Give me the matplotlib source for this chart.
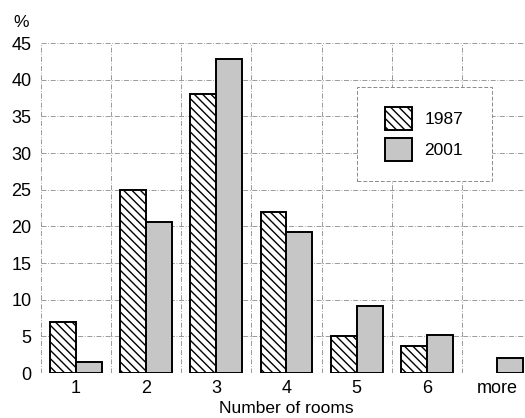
import matplotlib
matplotlib.use("Agg")
import matplotlib.pyplot as plt
from matplotlib.patches import Rectangle
import numpy as np

plt.rcParams['font.family'] = ['Liberation Sans', 'DejaVu Sans']
plt.rcParams['hatch.linewidth'] = 1.0

categories = ['1', '2', '3', '4', '5', '6', 'more']
vals_1987 = [7.0, 25.0, 38.0, 22.0, 5.0, 3.7, 0.0]
vals_2001 = [1.5, 20.6, 42.8, 19.2, 9.1, 5.2, 2.1]
series_labels = ['1987', '2001']
yticks = [0, 5, 10, 15, 20, 25, 30, 35, 40, 45]

fig = plt.figure(figsize=(5.25, 4.18), dpi=100)
ax = fig.add_axes([41/525, 45/418, 491/525, 330/418])

x = np.arange(len(categories))
w = 0.37
show1987 = [v > 0 for v in vals_1987]
b1 = ax.bar(x[show1987] - w/2, np.array(vals_1987)[show1987], width=w,
            facecolor='white', edgecolor='black', hatch='\\\\\\\\', linewidth=1.4,
            zorder=3, label=series_labels[0])
b2 = ax.bar(x + w/2, vals_2001, width=w, facecolor='#c6c6c6', edgecolor='black',
            linewidth=1.4, zorder=3, label=series_labels[1])

ax.set_xlim(-0.5, len(categories) - 0.5)
ax.set_ylim(0, 45)
ax.set_yticks(yticks)
ax.set_xticks(x)
ax.set_xticklabels(categories)
ax.set_xticks(np.arange(-0.5, len(categories) + 0.5, 1), minor=True)
ax.tick_params(axis='both', which='both', length=0, labelsize=13)
ax.tick_params(axis='y', pad=7)
ax.tick_params(axis='x', pad=5)
for s in ax.spines.values():
    s.set_visible(False)
gstyle = dict(color='#8a8a8a', linestyle=(0, (6, 2, 1, 2)), linewidth=0.6, zorder=0)
ax.grid(axis='y', which='major', **gstyle)
ax.grid(axis='x', which='minor', **gstyle)
ax.set_axisbelow(True)

ax.set_xlabel('Number of rooms', fontsize=12.5, labelpad=3)
fig.text(0.025, 0.945, '%', fontsize=12.5, ha='left', va='center')

# legend box
x0 = (357 - 41) / 491
y0 = (373 - 181) / 330
rect = Rectangle((x0, y0), 135/491, 94/330, transform=ax.transAxes,
                 facecolor='white', edgecolor='#8a8a8a', linestyle=(0, (4, 2)),
                 linewidth=0.7, zorder=4)
ax.add_patch(rect)
leg = ax.legend(loc='center', bbox_to_anchor=((424 - 41) / 491, (373 - 134) / 330),
                frameon=False, fontsize=12.5, handlelength=1.6, handleheight=1.6,
                labelspacing=0.5, handletextpad=0.7, borderpad=0)
leg.set_zorder(5)

fig.savefig('out.png', dpi=100)
